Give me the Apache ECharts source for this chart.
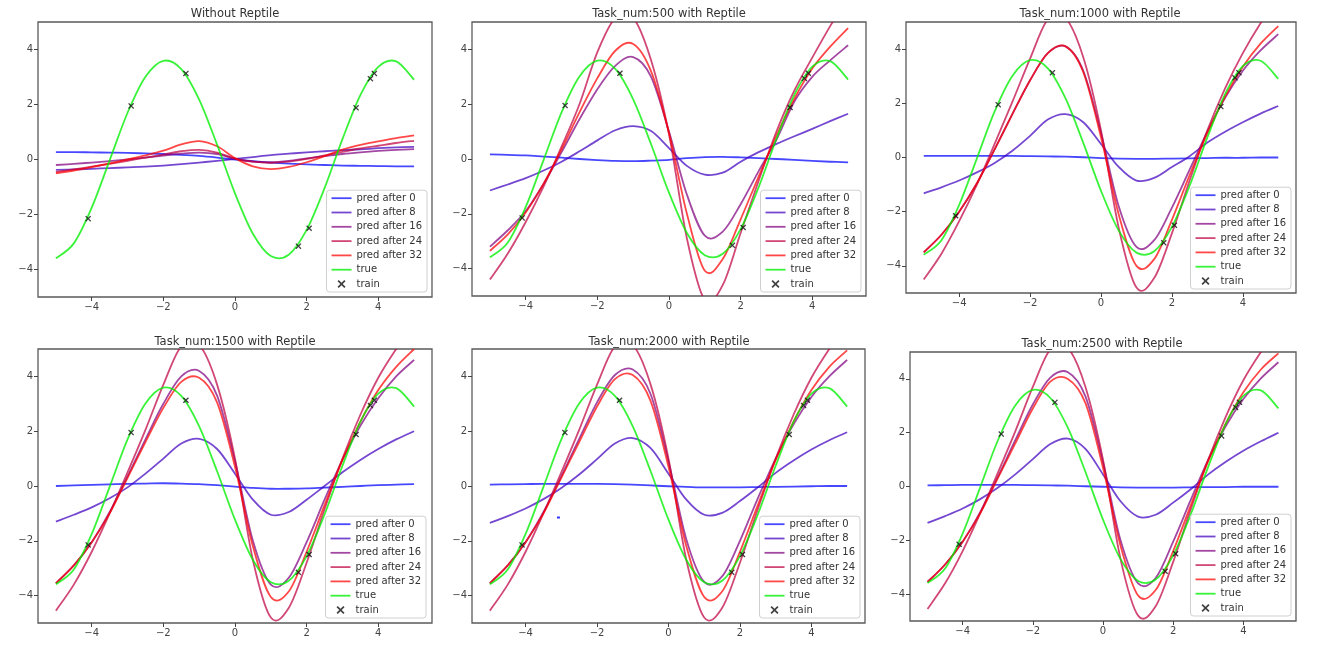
<!DOCTYPE html>
<html><head><meta charset="utf-8">
<script src="https://cdn.jsdelivr.net/npm/echarts@6/dist/echarts.min.js"></script>
<style>html,body{margin:0;padding:0;background:#fff}#c{width:1321px;height:645px}</style>
</head><body><div id="c"></div>
<script>
// ---------- data ----------
const XS = [-5,-4.5,-4,-3.5,-3,-2.5,-2,-1.5,-1,-0.5,0,0.5,1,1.5,2,2.5,3,3.5,4,4.5,5];
const TRUE_Y = [-3.59,-3.05,-1.75,-0.03,1.70,3.01,3.59,3.29,2.18,0.54,-1.23,-2.70,-3.51,-3.46,-2.56,-1.04,0.74,2.34,3.37,3.57,2.90];
const TRAIN_X = [-4.1,-2.9,-1.37,1.77,2.07,3.38,3.78,3.89];
const TRAIN_Y = [-2.15,1.95,3.13,-3.15,-2.5,1.88,2.94,3.13];
const TITLES = ['Without Reptile','Task_num:500 with Reptile','Task_num:1000 with Reptile','Task_num:1500 with Reptile','Task_num:2000 with Reptile','Task_num:2500 with Reptile'];
const PRED_NAMES = ['pred after 0','pred after 8','pred after 16','pred after 24','pred after 32'];
const TICKS = [-4,-2,0,2,4];

// Without Reptile
const P1_0  = [0.27,0.27,0.26,0.25,0.24,0.22,0.2,0.17,0.13,0.07,0.0,-0.06,-0.11,-0.15,-0.18,-0.2,-0.22,-0.23,-0.24,-0.25,-0.25];
const P1_8  = [-0.38,-0.36,-0.34,-0.31,-0.29,-0.26,-0.22,-0.17,-0.11,-0.05,0.02,0.09,0.16,0.21,0.26,0.3,0.34,0.37,0.41,0.44,0.46];
const P1_16 = [-0.2,-0.16,-0.11,-0.06,0.0,0.07,0.14,0.21,0.25,0.2,0.03,-0.08,-0.1,-0.05,0.04,0.12,0.2,0.26,0.31,0.35,0.38];
const P1_24 = [-0.45,-0.36,-0.26,-0.16,-0.05,0.07,0.18,0.3,0.35,0.25,0.03,-0.08,-0.12,-0.08,0.02,0.15,0.28,0.4,0.5,0.6,0.68];
const P1_32 = [-0.5,-0.4,-0.28,-0.14,0.0,0.15,0.32,0.55,0.67,0.48,0.05,-0.25,-0.35,-0.27,-0.1,0.12,0.36,0.53,0.66,0.78,0.88];
// Task_num:500
const P2_0  = [0.17,0.15,0.13,0.09,0.05,0.0,-0.04,-0.07,-0.08,-0.06,-0.03,0.03,0.07,0.08,0.06,0.03,0.0,-0.03,-0.07,-0.1,-0.12];
const P2_8  = [-1.15,-0.93,-0.7,-0.42,-0.1,0.28,0.68,1.05,1.2,1.02,0.4,-0.25,-0.57,-0.5,-0.1,0.25,0.55,0.83,1.1,1.38,1.65];
const P2_16 = [-3.2,-2.6,-1.9,-0.9,0.25,1.45,2.55,3.4,3.72,3.0,1.0,-1.3,-2.8,-2.65,-1.65,-0.45,0.7,2.1,3.0,3.6,4.15];
const P2_24 = [-4.4,-3.45,-2.3,-1.0,0.45,2.0,3.9,5.15,5.15,3.6,0.9,-2.9,-5.15,-4.6,-2.7,-0.8,1.0,2.5,3.7,4.85,5.9];
const P2_32 = [-3.35,-2.75,-1.95,-0.9,0.35,1.7,2.95,3.95,4.2,3.2,0.95,-2.0,-4.08,-3.65,-2.2,-0.65,0.85,2.2,3.3,4.1,4.78];
// Task_num:1000
const P3_0  = [0.06,0.06,0.06,0.06,0.06,0.06,0.05,0.04,0.03,0.01,-0.02,-0.04,-0.05,-0.05,-0.04,-0.03,-0.02,-0.01,-0.01,0.0,0.0];
const P3_8  = [-1.32,-1.1,-0.85,-0.55,-0.2,0.25,0.8,1.4,1.6,1.3,0.5,-0.35,-0.85,-0.75,-0.35,0.05,0.55,0.95,1.3,1.62,1.9];
const P3_16 = [-3.5,-2.85,-2.0,-0.95,0.3,1.6,2.85,3.85,4.1,3.2,0.9,-1.8,-3.3,-3.05,-1.85,-0.45,0.95,2.2,3.2,3.95,4.55];
const P3_24 = [-4.5,-3.55,-2.35,-1.0,0.5,2.05,3.65,5.1,5.15,3.7,1.0,-2.6,-4.8,-4.45,-2.8,-0.85,1.0,2.55,3.85,4.95,5.9];
const P3_32 = [-3.5,-2.85,-2.0,-0.95,0.3,1.6,2.85,3.85,4.1,3.15,0.75,-2.1,-4.0,-3.75,-2.3,-0.65,0.9,2.25,3.35,4.2,4.85];
// Task_num:1500
const P4_0  = [0.0,0.02,0.04,0.06,0.08,0.09,0.1,0.09,0.07,0.03,-0.02,-0.07,-0.1,-0.1,-0.09,-0.06,-0.03,0.0,0.03,0.05,0.07];
const P4_8  = [-1.3,-1.05,-0.78,-0.45,-0.05,0.45,1.0,1.55,1.72,1.35,0.45,-0.5,-1.05,-0.95,-0.5,0.0,0.5,0.95,1.35,1.7,2.0];
const P4_16 = [-3.55,-2.9,-2.05,-0.95,0.35,1.7,3.0,4.0,4.2,3.3,0.9,-2.0,-3.6,-3.35,-2.05,-0.5,0.95,2.2,3.2,4.0,4.6];
const P4_24 = [-4.55,-3.6,-2.4,-1.0,0.5,2.05,3.7,5.1,5.15,3.7,1.0,-2.7,-4.8,-4.45,-2.8,-0.85,1.0,2.6,3.95,5.0,5.9];
const P4_32 = [-3.55,-2.9,-2.05,-1.0,0.3,1.6,2.85,3.8,3.95,3.05,0.7,-2.2,-4.05,-3.85,-2.4,-0.7,0.95,2.35,3.5,4.35,5.0];
// Task_num:2000
const P5_0  = [0.05,0.06,0.07,0.08,0.08,0.08,0.08,0.07,0.05,0.02,-0.01,-0.03,-0.05,-0.05,-0.05,-0.04,-0.03,-0.02,-0.01,0.0,0.0];
const P5_8  = [-1.35,-1.1,-0.82,-0.48,-0.07,0.42,0.98,1.55,1.75,1.38,0.45,-0.5,-1.05,-0.98,-0.55,-0.05,0.48,0.93,1.33,1.67,1.96];
const P5_16 = [-3.55,-2.9,-2.05,-0.95,0.35,1.72,3.05,4.05,4.25,3.35,0.9,-1.95,-3.5,-3.3,-2.0,-0.45,1.0,2.25,3.25,4.0,4.6];
const P5_24 = [-4.55,-3.6,-2.4,-1.0,0.5,2.05,3.7,5.1,5.15,3.7,1.0,-2.7,-4.8,-4.45,-2.8,-0.85,1.0,2.6,3.95,5.0,5.9];
const P5_32 = [-3.55,-2.9,-2.05,-1.0,0.3,1.6,2.9,3.9,4.05,3.1,0.7,-2.2,-4.05,-3.85,-2.4,-0.7,0.95,2.35,3.5,4.35,4.95];
// Task_num:2500
const P6_0  = [0.04,0.05,0.06,0.06,0.06,0.06,0.05,0.04,0.03,0.01,-0.01,-0.03,-0.04,-0.04,-0.04,-0.03,-0.02,-0.02,-0.01,-0.01,-0.01];
const P6_8  = [-1.35,-1.1,-0.82,-0.47,-0.05,0.45,1.02,1.58,1.78,1.4,0.45,-0.55,-1.12,-1.05,-0.6,-0.1,0.45,0.92,1.33,1.68,2.0];
const P6_16 = [-3.55,-2.9,-2.05,-0.95,0.35,1.72,3.05,4.05,4.25,3.35,0.9,-2.0,-3.6,-3.4,-2.05,-0.5,1.0,2.25,3.25,4.02,4.62];
const P6_24 = [-4.55,-3.6,-2.4,-1.0,0.5,2.05,3.7,5.1,5.15,3.7,1.0,-2.7,-4.8,-4.45,-2.8,-0.85,1.0,2.6,3.95,5.0,5.9];
const P6_32 = [-3.55,-2.9,-2.05,-1.0,0.3,1.6,2.9,3.9,4.0,3.1,0.7,-2.2,-4.05,-3.85,-2.4,-0.7,0.95,2.35,3.5,4.35,4.95];
// stray blue dot in panel 5
const STRAY_X = [-3.08];
const STRAY_Y = [-1.15];

const PANELS = [
  [P1_0,P1_8,P1_16,P1_24,P1_32],
  [P2_0,P2_8,P2_16,P2_24,P2_32],
  [P3_0,P3_8,P3_16,P3_24,P3_32],
  [P4_0,P4_8,P4_16,P4_24,P4_32],
  [P5_0,P5_8,P5_16,P5_24,P5_32],
  [P6_0,P6_8,P6_16,P6_24,P6_32]
];

// ---------- layout & style ----------
const GRID_BOXES = [
  {left:38, top:22, width:394, height:275},
  {left:472,top:22, width:394, height:274},
  {left:906,top:22, width:390, height:271},
  {left:38, top:349,width:394, height:274},
  {left:472,top:349,width:393, height:274},
  {left:910,top:352,width:386, height:269}
];
const TITLE_POS = [[235,8],[669,8],[1100,8],[235,336],[669,336],[1102,338]];
const LEGEND_POS = [[894,353],[460,353],[30,356],[895,27],[461,27],[30,29]];
const PRED_COLORS = ['rgba(0,0,255,0.72)','rgba(64,0,191,0.72)','rgba(128,0,128,0.72)','rgba(191,0,64,0.72)','rgba(255,0,0,0.72)'];
const TRUE_COLOR = 'rgba(0,240,0,0.78)';
const FONT = 'DejaVu Sans';
const XMARK = 'path://M0,1.5L1.5,0L5,3.5L8.5,0L10,1.5L6.5,5L10,8.5L8.5,10L5,6.5L1.5,10L0,8.5L3.5,5Z';
const LINE_ICON = 'path://M0,0H20V1.8H0Z';
const fmt = v => String(v).replace('-', '\u2212');

// smooth curve through the data points, positioned by the axis scales (api.coord)
function curveRenderer(xs, ys, color) {
  return function (params, api) {
    if (params.dataIndex !== 0) return null;
    const p = xs.map((x, j) => api.coord([x, ys[j]]));
    const n = p.length;
    let d = 'M' + p[0][0] + ',' + p[0][1];
    for (let j = 0; j < n - 1; j++) {
      const a = p[Math.max(j - 1, 0)], b = p[j], c = p[j + 1], e = p[Math.min(j + 2, n - 1)];
      const c1x = b[0] + (c[0] - a[0]) / 6, c1y = b[1] + (c[1] - a[1]) / 6;
      const c2x = c[0] - (e[0] - b[0]) / 6, c2y = c[1] - (e[1] - b[1]) / 6;
      d += 'C' + c1x + ',' + c1y + ',' + c2x + ',' + c2y + ',' + c[0] + ',' + c[1];
    }
    return {type:'path', shape:{pathData:d}, style:{fill:'none', stroke:color, lineWidth:1.8, lineJoin:'round'}};
  };
}
function curveSeries(name, i, ys, color) {
  return {type:'custom', name, xAxisIndex:i, yAxisIndex:i, coordinateSystem:'cartesian2d', clip:true,
    data:XS.map((x, j) => [x, ys[j]]), renderItem:curveRenderer(XS, ys, color),
    itemStyle:{color}, silent:true, encode:{x:0, y:1}};
}

const grid = [], xAxis = [], yAxis = [], title = [], legend = [], series = [];
const axisCommon = {
  axisLine:{show:false, onZero:false}, splitLine:{show:false},
  axisTick:{show:true, inside:false, length:4, customValues:TICKS, lineStyle:{color:'#444', width:1}},
  axisLabel:{customValues:TICKS, formatter:fmt, fontSize:10, color:'#444', fontFamily:FONT, margin:5}
};
GRID_BOXES.forEach((g, i) => {
  grid.push(Object.assign({show:true, borderColor:'#5a5a5a', borderWidth:1.3, backgroundColor:'#fff', containLabel:false}, g));
  xAxis.push(Object.assign({type:'value', gridIndex:i, min:-5.5, max:5.5}, axisCommon));
  yAxis.push(Object.assign({type:'value', gridIndex:i, min:-5, max:5}, axisCommon));
  title.push({text:TITLES[i], left:TITLE_POS[i][0], top:TITLE_POS[i][1], textAlign:'center', padding:0,
    textStyle:{fontSize:11.5, fontWeight:'normal', color:'#333', fontFamily:FONT}});
  legend.push({orient:'vertical', right:LEGEND_POS[i][0], bottom:LEGEND_POS[i][1],
    itemWidth:20, itemHeight:8, itemGap:2.3, selectedMode:false,
    backgroundColor:'rgba(255,255,255,0.85)', borderColor:'#d0d0d0', borderWidth:1, borderRadius:3,
    padding:[2,5,2,5],
    textStyle:{fontSize:10, color:'#333', fontFamily:FONT, lineHeight:12},
    data:PRED_NAMES.concat(['true']).map(n => ({name:n, icon:LINE_ICON})).concat([{name:'train', icon:XMARK}])});
  PANELS[i].forEach((arr, k) => series.push(curveSeries(PRED_NAMES[k], i, arr, PRED_COLORS[k])));
  series.push(curveSeries('true', i, TRUE_Y, TRUE_COLOR));
  series.push({type:'scatter', name:'train', xAxisIndex:i, yAxisIndex:i,
    data:TRAIN_X.map((x, j) => [x, TRAIN_Y[j]]), symbol:XMARK, symbolSize:6,
    itemStyle:{color:'#111'}, silent:true, z:5});
});
series.push({type:'scatter', name:'stray', xAxisIndex:4, yAxisIndex:4,
  data:STRAY_X.map((x, j) => [x, STRAY_Y[j]]), symbol:'rect', symbolSize:[3,2],
  itemStyle:{color:'#0000ff'}, silent:true});

const chart = echarts.init(document.getElementById('c'), null, {renderer:'canvas'});
chart.setOption({animation:false, backgroundColor:'#fff', title, grid, xAxis, yAxis, legend, series});
</script></body></html>
